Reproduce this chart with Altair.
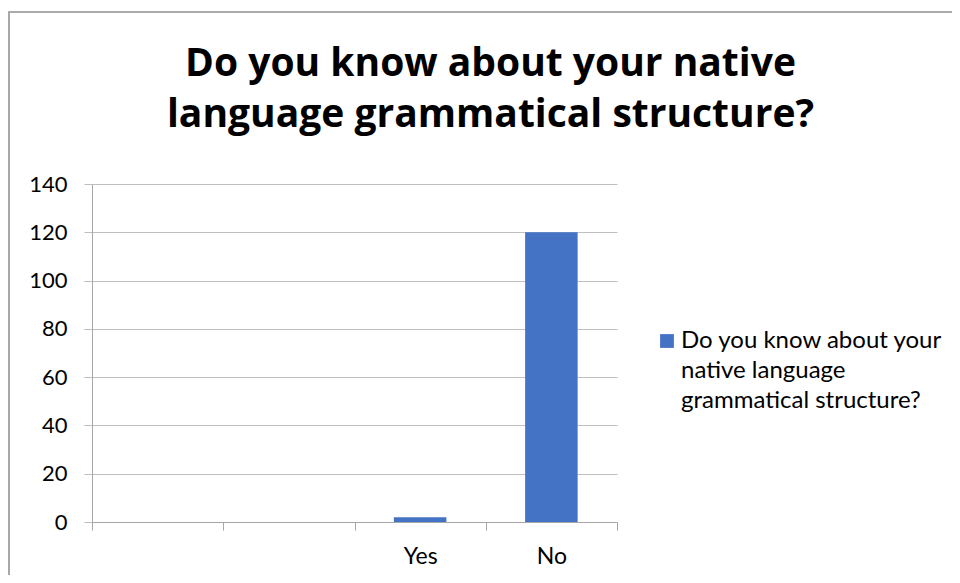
import altair as alt
import pandas as pd

categories = [" ", "  ", "Yes", "No"]
values = [None, None, 2, 120]
series_name = "Do you know about your native language grammatical structure?"
title_lines = ["Do you know about your native", "language grammatical structure?"]
legend_lines = ["Do you know about your", "native language", "grammatical structure?"]
y_ticks = [0, 20, 40, 60, 80, 100, 120, 140]

df = pd.DataFrame({"category": categories, "value": values, "series": [series_name] * 4})

FONT = "Lato"
TITLE_FONT = "Open Sans"
legend_expr = "[" + ", ".join("'" + s + "'" for s in legend_lines) + "]"

bars = alt.Chart(df).mark_bar(width=alt.RelativeBandSize(0.4)).encode(
    x=alt.X(
        "category:N",
        sort=categories,
        scale=alt.Scale(domain=categories, paddingInner=0, paddingOuter=0),
        axis=alt.Axis(
            title=None, labelAngle=0, grid=False, tickBand="extent",
            domainColor="#A6A6A6", tickColor="#A6A6A6", tickSize=8,
            labelFont=FONT, labelFontSize=23, labelColor="#000000",
            labelPadding=8, labelBaseline="top",
        ),
    ),
    y=alt.Y(
        "value:Q",
        scale=alt.Scale(domain=[0, 140], nice=False),
        axis=alt.Axis(
            title=None, values=y_ticks, grid=True, gridColor="#BFBFBF",
            domainColor="#A6A6A6", tickColor="#BFBFBF", tickSize=8,
            labelFont=FONT, labelFontSize=22, labelColor="#000000",
            labelPadding=17, labelOffset=-7,
        ),
    ),
    color=alt.Color(
        "series:N",
        scale=alt.Scale(range=["#4472C4"]),
        legend=alt.Legend(
            title=None, orient="none", legendX=563, legendY=145, padding=0,
            symbolType="square", symbolSize=190, symbolStrokeWidth=0,
            labelFont=FONT, labelFontSize=24, labelColor="#000000",
            labelOffset=2, labelLimit=400, labelBaseline="alphabetic",
            labelExpr=legend_expr,
        ),
    ),
)

frame = alt.Chart(df).mark_rect(fill=None, stroke="#A6A6A6", strokeWidth=1.2).encode(
    x=alt.value(-83), x2=alt.value(1000), y=alt.value(-172), y2=alt.value(900)
)

chart = alt.layer(frame, bars).properties(
    width=525,
    height=338,
    padding={"left": 84, "top": 176, "right": 335, "bottom": 53},
    autosize=alt.AutoSizeParams(type="none"),
    title=alt.TitleParams(
        text=title_lines, font=TITLE_FONT, fontSize=39, fontWeight="bold", color="#000000",
        anchor="middle", frame="group", dx=136, offset=-124, lineHeight=51,
    ),
).configure(style={"guide-label": {"lineHeight": 30, "dy": 7}}).configure_view(stroke=None)

chart.save("out.html", embed_options={"renderer": "svg", "actions": False})
